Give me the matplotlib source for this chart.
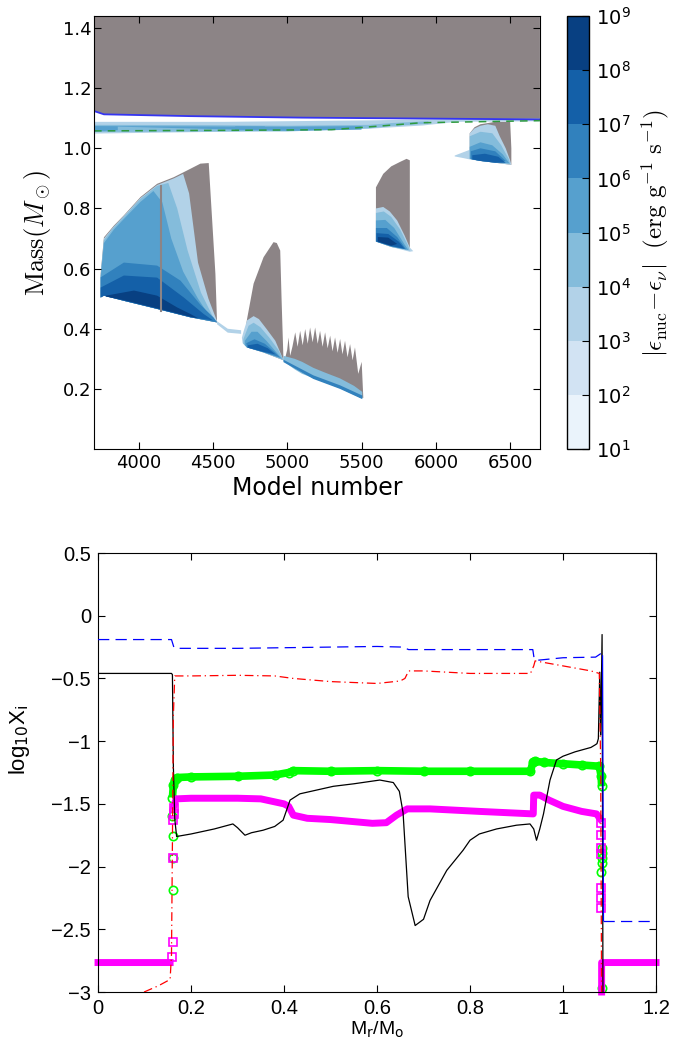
import numpy as np
import matplotlib.pyplot as plt
from matplotlib.colors import ListedColormap, BoundaryNorm
from matplotlib.cm import ScalarMappable

# ---------------- top panel : Kippenhahn diagram ----------------
# regions as (model number, mass) outlines
levels = [1, 2, 3, 4, 5, 6, 7, 8, 9]
cbar_labels = [r'$10^{%d}$' % l for l in levels]
model_ticks = [4000, 4500, 5000, 5500, 6000, 6500]
mass_ticks = [0.2, 0.4, 0.6, 0.8, 1.0, 1.2, 1.4]

# convective envelope (lower boundary)
env_model = [3700, 3767, 4349, 5100, 5900, 6700]
env_mass = [1.124, 1.113, 1.107, 1.102, 1.099, 1.096]

# H-burning shell band and its centre (green dashed)
hsh_model = [3700, 4572, 5579, 5915, 6139, 6700, 6700, 6139, 5915, 5579, 4572, 3700]
hsh_mass = [1.088, 1.088, 1.093, 1.096, 1.097, 1.099, 1.090, 1.088, 1.076, 1.066, 1.055, 1.049]
hsh2_model = [3700, 4500, 5000, 5550, 5700, 5950, 5950, 5700, 5550, 5000, 4500, 3700]
hsh2_mass = [1.078, 1.077, 1.075, 1.078, 1.084, 1.090, 1.082, 1.074, 1.066, 1.056, 1.056, 1.054]
hsh3_model = [3700, 3860, 3860, 3700, np.nan, 4650, 4850, 4850, 4650, np.nan, 5000, 5500, 5500, 5000]
hsh3_mass = [1.074, 1.072, 1.060, 1.056, np.nan, 1.072, 1.072, 1.060, 1.060, np.nan, 1.072, 1.074, 1.062, 1.058]
hmax_model = [3700, 4700, 5300, 5650, 5900, 6700]
hmax_mass = [1.058, 1.060, 1.062, 1.075, 1.085, 1.092]

# flash 1
f1_gray_model = [3745, 3745, 3767, 3834, 3901, 4013, 4125, 4237, 4349, 4416, 4472, 4483, 4517, 4528, 4349, 4125, 3901, 3767]
f1_gray_mass = [0.504, 0.583, 0.704, 0.743, 0.777, 0.838, 0.882, 0.904, 0.932, 0.949, 0.951, 0.86, 0.582, 0.421, 0.438, 0.466, 0.493, 0.51]
f1_b2_model = [3745, 3767, 3834, 3901, 4013, 4125, 4237, 4300, 4340, 4400, 4470, 4528, 4349, 4125, 3901, 3767, 3745]
f1_b2_mass = [0.58, 0.70, 0.74, 0.775, 0.835, 0.878, 0.90, 0.915, 0.85, 0.62, 0.50, 0.425, 0.438, 0.466, 0.493, 0.51, 0.504]
f1_b3_model = [3745, 3767, 3834, 3901, 4013, 4125, 4200, 4260, 4330, 4420, 4500, 4528, 4349, 4125, 3901, 3767, 3745]
f1_b3_mass = [0.575, 0.695, 0.738, 0.772, 0.832, 0.875, 0.885, 0.80, 0.66, 0.52, 0.44, 0.422, 0.438, 0.466, 0.493, 0.51, 0.504]
f1_b4_model = [3745, 3767, 3834, 3901, 4013, 4100, 4160, 4220, 4300, 4400, 4480, 4528, 4349, 4125, 3901, 3767, 3745]
f1_b4_mass = [0.57, 0.685, 0.73, 0.765, 0.822, 0.858, 0.82, 0.70, 0.59, 0.50, 0.44, 0.421, 0.438, 0.466, 0.493, 0.51, 0.504]
f1_b5_model = [3745, 3901, 4125, 4282, 4416, 4505, 4528, 4349, 4125, 3901, 3767, 3745]
f1_b5_mass = [0.571, 0.62, 0.61, 0.56, 0.48, 0.437, 0.421, 0.438, 0.466, 0.493, 0.51, 0.504]
f1_b6_model = [3745, 3901, 4125, 4304, 4438, 4500, 4349, 4125, 3901, 3767, 3745]
f1_b6_mass = [0.537, 0.577, 0.57, 0.504, 0.449, 0.428, 0.438, 0.466, 0.493, 0.51, 0.504]
f1_b7_model = [3780, 3969, 4125, 4259, 4349, 4400, 4349, 4125, 3901, 3780]
f1_b7_mass = [0.51, 0.527, 0.51, 0.471, 0.449, 0.435, 0.44, 0.468, 0.495, 0.507]
# gray streak through flash 1
f1_streak_model = [4150, 4150]
f1_streak_mass = [0.46, 0.875]

# flash 2
f2_gray_model = [4718, 4729, 4774, 4841, 4908, 4930, 4953, 4962, 4975, 4841, 4729, 4718]
f2_gray_mass = [0.39, 0.43, 0.55, 0.638, 0.688, 0.685, 0.66, 0.50, 0.295, 0.321, 0.338, 0.36]
f2_tail_model = [4528, 4600, 4690, 4690, 4600, 4528]
f2_tail_mass = [0.425, 0.40, 0.395, 0.383, 0.387, 0.415]
f2_b2_model = [4695, 4707, 4730, 4774, 4810, 4860, 4920, 4975, 4841, 4729, 4700]
f2_b2_mass = [0.37, 0.392, 0.428, 0.442, 0.432, 0.40, 0.36, 0.296, 0.321, 0.338, 0.352]
f2_b3_model = [4705, 4740, 4774, 4820, 4880, 4940, 4975, 4841, 4729, 4705]
f2_b3_mass = [0.365, 0.41, 0.42, 0.405, 0.37, 0.33, 0.296, 0.321, 0.338, 0.35]
f2_b4_model = [4715, 4760, 4800, 4860, 4930, 4965, 4841, 4729, 4715]
f2_b4_mass = [0.36, 0.39, 0.39, 0.36, 0.32, 0.30, 0.322, 0.338, 0.345]
f2_b5_model = [4725, 4780, 4850, 4920, 4950, 4841, 4729]
f2_b5_mass = [0.352, 0.365, 0.35, 0.32, 0.305, 0.322, 0.338]
f2_b6_model = [4735, 4800, 4870, 4920, 4841, 4735]
f2_b6_mass = [0.345, 0.35, 0.335, 0.315, 0.323, 0.337]

# sequence of weak flashes
s3_gray_model = [4985, 5000, 5009, 5020, 5035, 5054, 5070, 5087, 5104, 5121, 5138, 5154, 5171, 5188,
                 5205, 5221, 5238, 5255, 5272, 5289, 5305, 5322, 5339, 5356, 5372, 5389, 5406, 5423,
                 5440, 5456, 5478, 5501, 5512, 5490, 5355, 5176, 4987]
s3_gray_mass = [0.30, 0.33, 0.371, 0.31, 0.34, 0.388, 0.34, 0.393, 0.345, 0.399, 0.35, 0.404, 0.355, 0.404,
                0.35, 0.393, 0.34, 0.388, 0.335, 0.377, 0.325, 0.371, 0.32, 0.366, 0.315, 0.36, 0.305, 0.349,
                0.295, 0.338, 0.25, 0.29, 0.17, 0.171, 0.204, 0.238, 0.293]
s3_b3_model = [4975, 5050, 5100, 5176, 5250, 5355, 5450, 5505, 5505, 5450, 5355, 5250, 5176, 5100, 5050, 4975]
s3_b3_mass = [0.31, 0.30, 0.29, 0.27, 0.255, 0.235, 0.21, 0.19, 0.168, 0.18, 0.202, 0.222, 0.236, 0.25, 0.265, 0.292]
s3_b5_model = [4975, 5176, 5355, 5505, 5505, 5355, 5176, 4975]
s3_b5_mass = [0.297, 0.245, 0.212, 0.178, 0.166, 0.20, 0.233, 0.289]

# flash 4
f4_gray_model = [5597, 5597, 5646, 5700, 5760, 5803, 5825, 5825, 5700, 5597]
f4_gray_mass = [0.69, 0.87, 0.915, 0.94, 0.955, 0.965, 0.96, 0.66, 0.672, 0.69]
f4_b2_model = [5597, 5597, 5646, 5690, 5740, 5790, 5825, 5848, 5825, 5700, 5597]
f4_b2_mass = [0.69, 0.80, 0.805, 0.79, 0.76, 0.71, 0.67, 0.658, 0.656, 0.672, 0.69]
f4_b3_model = [5597, 5650, 5700, 5760, 5810, 5825, 5700, 5597]
f4_b3_mass = [0.785, 0.79, 0.772, 0.73, 0.68, 0.66, 0.672, 0.69]
f4_b4_model = [5597, 5660, 5720, 5790, 5815, 5700, 5597]
f4_b4_mass = [0.76, 0.762, 0.735, 0.68, 0.662, 0.673, 0.69]
f4_b5_model = [5597, 5670, 5740, 5800, 5700, 5597]
f4_b5_mass = [0.735, 0.735, 0.705, 0.664, 0.674, 0.69]
f4_b6_model = [5600, 5680, 5750, 5790, 5700, 5600]
f4_b6_mass = [0.718, 0.715, 0.69, 0.666, 0.675, 0.69]
f4_b7_model = [5610, 5680, 5740, 5700, 5610]
f4_b7_mass = [0.705, 0.703, 0.682, 0.676, 0.69]

# flash 5
f5_gray_model = [6228, 6228, 6260, 6300, 6400, 6500, 6508, 6508, 6400, 6300, 6228]
f5_gray_mass = [0.97, 1.05, 1.07, 1.08, 1.088, 1.088, 1.0, 0.945, 0.952, 0.958, 0.965]
f5_b2_model = [6127, 6180, 6228, 6228, 6260, 6300, 6350, 6400, 6430, 6470, 6500, 6508, 6400, 6300, 6228, 6180, 6127]
f5_b2_mass = [0.976, 0.986, 0.995, 1.05, 1.066, 1.075, 1.08, 1.075, 1.04, 1.0, 0.96, 0.945, 0.952, 0.958, 0.963, 0.968, 0.973]
f5_b3_model = [6228, 6228, 6300, 6380, 6440, 6490, 6500, 6400, 6300, 6228]
f5_b3_mass = [0.965, 1.04, 1.055, 1.05, 1.01, 0.965, 0.948, 0.952, 0.958, 0.965]
f5_b4_model = [6228, 6300, 6380, 6450, 6495, 6400, 6300, 6228]
f5_b4_mass = [1.005, 1.02, 1.01, 0.98, 0.95, 0.952, 0.958, 0.965]
f5_b5_model = [6235, 6300, 6400, 6470, 6400, 6300, 6235]
f5_b5_mass = [0.99, 1.0, 0.99, 0.958, 0.953, 0.958, 0.964]
f5_b6_model = [6245, 6330, 6420, 6470, 6400, 6300, 6245]
f5_b6_mass = [0.977, 0.982, 0.972, 0.952, 0.952, 0.958, 0.963]

# ---------------- bottom panel : abundance profiles ----------------
mr_ticks = [0, 0.2, 0.4, 0.6, 0.8, 1.0, 1.2]
mr_labels = ['0', '0.2', '0.4', '0.6', '0.8', '1', '1.2']
logx_ticks = [-3, -2.5, -2, -1.5, -1, -0.5, 0, 0.5]
logx_labels = ['\u22123', '\u22122.5', '\u22122', '\u22121.5', '\u22121', '\u22120.5', '0', '0.5']

black_x = [0.0, 0.158, 0.160, 0.162, 0.165, 0.169, 0.20, 0.25, 0.29, 0.30, 0.316, 0.33, 0.355, 0.38, 0.398,
           0.413, 0.434, 0.47, 0.506, 0.55, 0.606, 0.635, 0.648, 0.656, 0.667, 0.682, 0.70, 0.714, 0.75,
           0.785, 0.80, 0.82, 0.857, 0.90, 0.929, 0.937, 0.943, 0.950, 0.958, 0.972, 0.986, 1.00, 1.026,
           1.06, 1.069, 1.073, 1.076, 1.079, 1.081, 1.084, 1.086]
black_y = [-0.46, -0.46, -0.47, -1.20, -1.62, -1.76, -1.74, -1.70, -1.66, -1.69, -1.75, -1.73, -1.71, -1.68,
           -1.63, -1.47, -1.42, -1.39, -1.36, -1.34, -1.31, -1.33, -1.40, -1.57, -2.24, -2.47, -2.42, -2.27,
           -2.03, -1.87, -1.79, -1.74, -1.70, -1.67, -1.66, -1.70, -1.79, -1.70, -1.58, -1.31, -1.15, -1.12,
           -1.085, -1.05, -1.03, -1.02, -0.98, -0.45, -0.95, -0.15, -3.2]

blue_x = [0.0, 0.158, 0.163, 0.168, 0.30, 0.50, 0.60, 0.655, 0.668, 0.80, 0.935, 0.938, 0.945, 1.00, 1.07,
          1.082, 1.085, 1.087, 1.2]
blue_y = [-0.19, -0.19, -0.25, -0.26, -0.26, -0.25, -0.245, -0.25, -0.27, -0.27, -0.27, -0.345, -0.355,
          -0.335, -0.33, -0.30, -0.32, -2.43, -2.43]

red_x = [0.099, 0.13, 0.155, 0.158, 0.160, 0.162, 0.165, 0.20, 0.30, 0.38, 0.42, 0.50, 0.60, 0.65, 0.66,
         0.668, 0.70, 0.80, 0.93, 0.937, 0.94, 1.00, 1.06, 1.078, 1.081, 1.083]
red_y = [-3.0, -2.95, -2.90, -2.70, -1.80, -0.80, -0.48, -0.48, -0.475, -0.48, -0.50, -0.525, -0.54, -0.52,
         -0.50, -0.44, -0.44, -0.46, -0.46, -0.40, -0.36, -0.40, -0.44, -0.46, -1.20, -3.10]

green_x = [0.160, 0.162, 0.165, 0.17, 0.20, 0.30, 0.38, 0.41, 0.42, 0.50, 0.60, 0.70, 0.80, 0.93, 0.935,
           0.94, 0.96, 1.00, 1.04, 1.078, 1.082, 1.083]
green_y = [-1.45, -1.35, -1.31, -1.29, -1.285, -1.28, -1.27, -1.25, -1.235, -1.24, -1.235, -1.24, -1.24,
           -1.24, -1.17, -1.16, -1.17, -1.18, -1.19, -1.20, -1.28, -1.36]
green_pt_x = [0.160, 0.162, 0.162, 0.162, 1.083, 1.083, 1.083, 1.083, 1.082, 1.083]
green_pt_y = [-1.60, -1.76, -1.93, -2.19, -1.85, -1.89, -1.93, -1.97, -2.04, -2.97]

mag_x = [0.0, 0.155, np.nan, 0.163, 0.168, 0.20, 0.30, 0.35, 0.40, 0.41, 0.42, 0.45, 0.50, 0.59, 0.62,
         0.642, 0.665, 0.714, 0.82, 0.936, 0.937, 0.95, 0.97, 1.00, 1.04, 1.072, 1.08, np.nan,
         1.083, 1.083, 1.2]
mag_y = [-2.765, -2.765, np.nan, -1.52, -1.46, -1.455, -1.455, -1.46, -1.50, -1.52, -1.59, -1.615, -1.625,
         -1.655, -1.65, -1.59, -1.54, -1.54, -1.56, -1.58, -1.43, -1.43, -1.47, -1.52, -1.56, -1.58, -1.62,
         np.nan, -3.0, -2.765, -2.765]
mag_pt_x = [0.160, 0.162, 0.162, 0.162, 0.163, 0.163, 1.082, 1.082, 1.082, 1.082, 1.082, 1.082, 1.082]
mag_pt_y = [-2.72, -2.60, -1.93, -1.63, -1.58, -1.53, -1.65, -1.75, -1.85, -1.90, -2.17, -2.25, -2.33]

# ---------------- figure ----------------
GRAY = '#8c8486'
bin_colors = [plt.cm.Blues((i + 0.5) / 8) for i in range(8)]

fig = plt.figure(figsize=(6.86, 10.45), dpi=100)
ax1 = fig.add_axes([0.137, 0.5703, 0.650, 0.4144])
cax = fig.add_axes([0.8265, 0.5703, 0.032, 0.4144])
ax2 = fig.add_axes([0.1429, 0.0507, 0.8134, 0.4201])

# envelope and H-burning shell
ax1.fill(env_model + [6700, 3700], env_mass + [1.6, 1.6], color=GRAY, lw=0)
ax1.fill(hsh_model, hsh_mass, color=bin_colors[2], lw=0)
ax1.fill(hsh2_model, hsh2_mass, color=bin_colors[3], lw=0)
ax1.fill(hsh3_model, hsh3_mass, color=bin_colors[4], lw=0)

grays = [(f1_gray_model, f1_gray_mass), (f2_gray_model, f2_gray_mass), (s3_gray_model, s3_gray_mass),
         (f4_gray_model, f4_gray_mass), (f5_gray_model, f5_gray_mass)]
for xm, ym in grays:
    ax1.fill(xm, ym, color=GRAY, lw=0)

blues = [(f1_b2_model, f1_b2_mass, 2), (f1_b3_model, f1_b3_mass, 3), (f1_b4_model, f1_b4_mass, 4),
         (f1_b5_model, f1_b5_mass, 5), (f1_b6_model, f1_b6_mass, 6), (f1_b7_model, f1_b7_mass, 7),
         (f2_tail_model, f2_tail_mass, 2), (f2_b2_model, f2_b2_mass, 2), (f2_b3_model, f2_b3_mass, 3),
         (f2_b4_model, f2_b4_mass, 4), (f2_b5_model, f2_b5_mass, 5), (f2_b6_model, f2_b6_mass, 6),
         (s3_b3_model, s3_b3_mass, 3), (s3_b5_model, s3_b5_mass, 5),
         (f4_b2_model, f4_b2_mass, 2), (f4_b3_model, f4_b3_mass, 3), (f4_b4_model, f4_b4_mass, 4),
         (f4_b5_model, f4_b5_mass, 5), (f4_b6_model, f4_b6_mass, 6), (f4_b7_model, f4_b7_mass, 7),
         (f5_b2_model, f5_b2_mass, 2), (f5_b3_model, f5_b3_mass, 3), (f5_b4_model, f5_b4_mass, 4),
         (f5_b5_model, f5_b5_mass, 5), (f5_b6_model, f5_b6_mass, 6)]
for xm, ym, b in blues:
    ax1.fill(xm, ym, color=bin_colors[b], lw=0)

ax1.plot(f1_streak_model, f1_streak_mass, color=GRAY, lw=1.5)
ax1.plot(env_model, env_mass, color='#3535f0', lw=1.3)
ax1.plot(hmax_model, hmax_mass, color='#2e9a3e', lw=1.1, dashes=(5, 4))

ax1.set_xlim(3700, 6700)
ax1.set_ylim(0, 1.44)
ax1.set_xticks(model_ticks)
ax1.set_yticks(mass_ticks)
ax1.tick_params(direction='in', top=True, right=True, length=5, labelsize=13)
ax1.tick_params(axis='y', pad=2)
ax1.set_xlabel('Model number', fontsize=17, labelpad=3)
ax1.set_ylabel(r'$\mathrm{Mass}(M_\odot)$', fontsize=19, math_fontfamily='cm', labelpad=7)

cmap = ListedColormap(bin_colors)
norm = BoundaryNorm(levels, cmap.N)
cb = fig.colorbar(ScalarMappable(norm=norm, cmap=cmap), cax=cax, ticks=levels)
cb.set_ticklabels(cbar_labels)
cb.outline.set_linewidth(1)
cax.tick_params(direction='in', length=5, labelsize=14, pad=5)
cb.set_label(r'$|\epsilon_{\rm nuc}\!-\!\epsilon_{\nu}|\ \ (\rm erg\ g^{-1}\ s^{-1})$',
             fontsize=18, math_fontfamily='cm', labelpad=6)

# bottom panel
ax2.plot(green_x, green_y, color=(0, 1, 0), lw=5.5, solid_capstyle='butt', zorder=2)
ax2.plot(green_x + green_pt_x, green_y + green_pt_y, ls='none', marker='o', ms=6, mfc='none',
         mec=(0, 1, 0), mew=1.2, zorder=2, clip_on=False)
ax2.plot(mag_x, mag_y, color=(1, 0, 1), lw=5, solid_capstyle='projecting', zorder=2, clip_on=False)
ax2.plot(mag_pt_x, mag_pt_y, ls='none', marker='s', ms=6, mfc='none', mec=(1, 0, 1), mew=1.2, zorder=2)

ax2.plot(black_x, black_y, color='k', lw=0.9, zorder=3)
ax2.plot(blue_x[:17], blue_y[:17], color='b', lw=0.9, dashes=(9, 5), zorder=3)
ax2.plot(blue_x[16:18], blue_y[16:18], color='b', lw=0.9, zorder=3)
ax2.plot(blue_x[17:], blue_y[17:], color='b', lw=0.9, dashes=(9, 5), zorder=3)
ax2.plot(red_x, red_y, color='r', lw=0.9, dashes=(7, 3, 1, 3), zorder=3)

ax2.set_xlim(0, 1.2)
ax2.set_ylim(-3, 0.5)
ax2.set_xticks(mr_ticks)
ax2.set_xticklabels(mr_labels)
ax2.set_yticks(logx_ticks)
ax2.set_yticklabels(logx_labels)
ax2.tick_params(direction='in', top=True, right=True, length=5, labelsize=14.5, pad=5)
for t in ax2.get_xticklabels() + ax2.get_yticklabels():
    t.set_family('Liberation Sans')
ax2.set_xlabel(r'M$_\mathrm{r}$/M$_\mathrm{o}$', fontsize=14, family='Liberation Sans', labelpad=1)
ax2.set_ylabel(r'log$_{10}$X$_\mathrm{i}$', fontsize=16, family='Liberation Sans')
ax2.yaxis.set_label_coords(-0.118, 0.574)

fig.savefig('out.png', dpi=100)
